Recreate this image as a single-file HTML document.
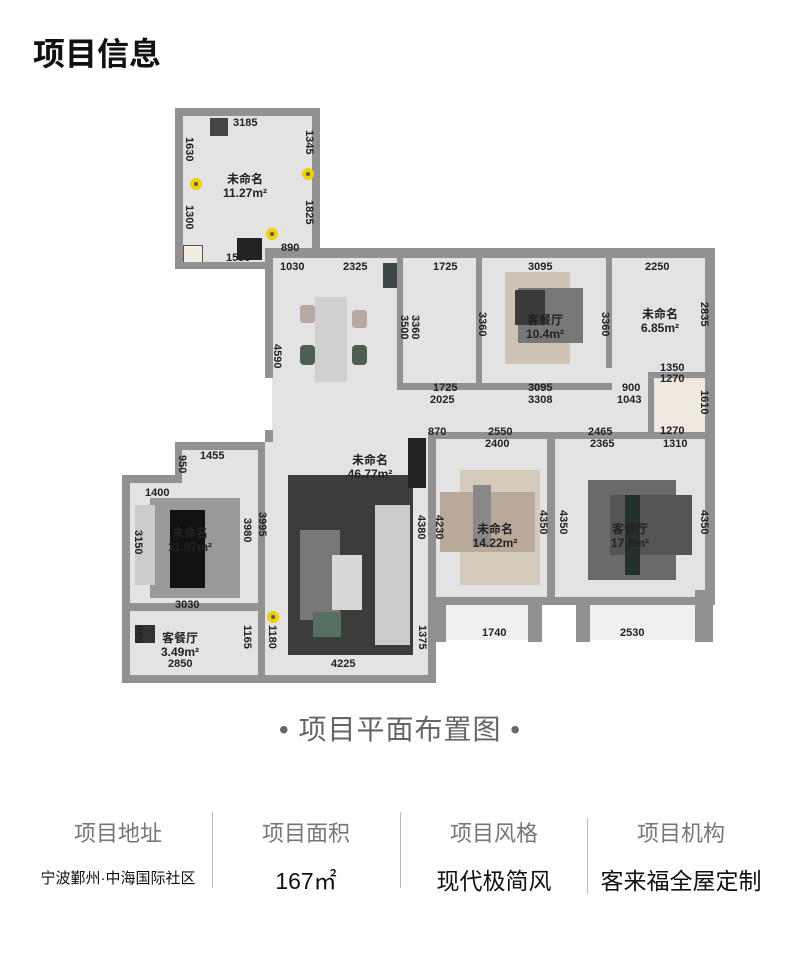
<!DOCTYPE html>
<html><head><meta charset="utf-8"><style>
body{margin:0;width:800px;height:961px;background:#fff;position:relative;overflow:hidden;font-family:"Liberation Sans","Noto Sans CJK SC",sans-serif}
.a{position:absolute}
.f{position:absolute;background:#e3e3e3}
.w{position:absolute;background:#919191}
.t{position:absolute;font-size:11px;color:#222;font-weight:bold;white-space:nowrap;line-height:1}
.v{position:absolute;font-size:11px;color:#222;font-weight:bold;white-space:nowrap;line-height:1;transform:rotate(90deg);transform-origin:left top}
.r{position:absolute;font-size:12px;color:#222;text-align:center;line-height:14px;font-weight:bold}
.y{position:absolute;width:12px;height:12px;border-radius:50%;background:#f0d000;box-sizing:border-box;border:3px solid #f0d000}
.y:after{content:"";position:absolute;left:1px;top:1px;width:4px;height:4px;border-radius:50%;background:#555}
.lab{position:absolute;top:816px;font-size:22px;color:#777;width:188px;text-align:center}
.val{position:absolute;top:862px;font-size:23px;color:#111;width:188px;text-align:center}
.dv{position:absolute;width:1px;background:#bbb}
</style></head><body>
<div class="a" style="left:33px;top:29px;font-size:32px;font-weight:bold;color:#111">项目信息</div>

<div class="f" style="left:183px;top:116px;width:130px;height:148px"></div>
<div class="f" style="left:272px;top:258px;width:436px;height:182px"></div>
<div class="f" style="left:265px;top:440px;width:170px;height:238px"></div>
<div class="f" style="left:130px;top:475px;width:135px;height:203px"></div>
<div class="f" style="left:180px;top:450px;width:85px;height:30px"></div>
<div class="f" style="left:435px;top:440px;width:273px;height:160px"></div>
<div class="f" style="left:445px;top:600px;width:85px;height:40px;background:#f0f0f0"></div>
<div class="f" style="left:590px;top:600px;width:105px;height:40px;background:#f0f0f0"></div>
<div class="f" style="left:655px;top:380px;width:50px;height:52px;background:#efe9df"></div>

<div class="a" style="left:210px;top:118px;width:18px;height:18px;background:#444"></div>
<div class="a" style="left:237px;top:238px;width:25px;height:22px;background:#222"></div>
<div class="a" style="left:183px;top:245px;width:18px;height:18px;background:#f2ece2;border:1px solid #555"></div>
<div class="a" style="left:315px;top:297px;width:32px;height:85px;background:#d0d0d0"></div>
<div class="a" style="left:300px;top:305px;width:15px;height:18px;background:#b9a9a6;border-radius:3px"></div>
<div class="a" style="left:352px;top:310px;width:15px;height:18px;background:#b9a9a6;border-radius:3px"></div>
<div class="a" style="left:300px;top:345px;width:15px;height:20px;background:#4f5e52;border-radius:4px"></div>
<div class="a" style="left:352px;top:345px;width:15px;height:20px;background:#4f5e52;border-radius:4px"></div>
<div class="a" style="left:383px;top:263px;width:18px;height:25px;background:#3d4548"></div>
<div class="a" style="left:505px;top:272px;width:65px;height:92px;background:#cfc3b3"></div>
<div class="a" style="left:518px;top:288px;width:65px;height:55px;background:#777"></div>
<div class="a" style="left:515px;top:290px;width:30px;height:35px;background:#3a3a3a"></div>
<div class="a" style="left:288px;top:475px;width:125px;height:180px;background:#3c3c3c"></div>
<div class="a" style="left:300px;top:530px;width:40px;height:90px;background:#777"></div>
<div class="a" style="left:375px;top:505px;width:35px;height:140px;background:#ccc"></div>
<div class="a" style="left:332px;top:555px;width:30px;height:55px;background:#d8d8d8"></div>
<div class="a" style="left:313px;top:612px;width:28px;height:25px;background:#557060"></div>
<div class="a" style="left:408px;top:438px;width:18px;height:50px;background:#222"></div>
<div class="a" style="left:460px;top:470px;width:80px;height:115px;background:#d4cbbd"></div>
<div class="a" style="left:440px;top:492px;width:95px;height:60px;background:#b9a99a"></div>
<div class="a" style="left:473px;top:485px;width:18px;height:62px;background:#888"></div>
<div class="a" style="left:588px;top:480px;width:88px;height:100px;background:#6a6a6a"></div>
<div class="a" style="left:610px;top:495px;width:82px;height:60px;background:#555"></div>
<div class="a" style="left:625px;top:495px;width:15px;height:80px;background:#24302a"></div>
<div class="a" style="left:150px;top:498px;width:90px;height:100px;background:#999"></div>
<div class="a" style="left:170px;top:510px;width:35px;height:78px;background:#111"></div>
<div class="a" style="left:135px;top:505px;width:20px;height:80px;background:#ccc"></div>
<div class="a" style="left:135px;top:625px;width:20px;height:18px;background:#333"></div>

<div class="w" style="left:175px;top:108px;width:145px;height:8px"></div>
<div class="w" style="left:175px;top:108px;width:8px;height:160px"></div>
<div class="w" style="left:312px;top:108px;width:8px;height:148px"></div>
<div class="w" style="left:175px;top:262px;width:90px;height:7px"></div>
<div class="w" style="left:265px;top:248px;width:450px;height:10px"></div>
<div class="w" style="left:265px;top:248px;width:8px;height:130px"></div>
<div class="w" style="left:265px;top:430px;width:8px;height:12px"></div>
<div class="w" style="left:705px;top:248px;width:10px;height:352px"></div>
<div class="w" style="left:397px;top:258px;width:6px;height:132px"></div>
<div class="w" style="left:476px;top:258px;width:6px;height:132px"></div>
<div class="w" style="left:606px;top:258px;width:6px;height:110px"></div>
<div class="w" style="left:397px;top:383px;width:215px;height:7px"></div>
<div class="w" style="left:648px;top:372px;width:6px;height:60px"></div>
<div class="w" style="left:648px;top:372px;width:60px;height:6px"></div>
<div class="w" style="left:428px;top:432px;width:287px;height:7px"></div>
<div class="w" style="left:547px;top:432px;width:8px;height:172px"></div>
<div class="w" style="left:428px;top:597px;width:287px;height:8px"></div>
<div class="w" style="left:428px;top:432px;width:8px;height:251px"></div>
<div class="w" style="left:428px;top:597px;width:18px;height:45px"></div>
<div class="w" style="left:528px;top:597px;width:14px;height:45px"></div>
<div class="w" style="left:576px;top:597px;width:14px;height:45px"></div>
<div class="w" style="left:695px;top:590px;width:18px;height:52px"></div>
<div class="w" style="left:122px;top:675px;width:314px;height:8px"></div>
<div class="w" style="left:122px;top:475px;width:60px;height:8px"></div>
<div class="w" style="left:175px;top:442px;width:90px;height:8px"></div>
<div class="w" style="left:175px;top:442px;width:7px;height:40px"></div>
<div class="w" style="left:122px;top:475px;width:8px;height:208px"></div>
<div class="w" style="left:122px;top:603px;width:143px;height:8px"></div>
<div class="w" style="left:258px;top:442px;width:7px;height:241px"></div>

<div class="y" style="left:190px;top:178px"></div>
<div class="y" style="left:302px;top:168px"></div>
<div class="y" style="left:266px;top:228px"></div>
<div class="y" style="left:267px;top:611px"></div>

<div class="r" style="left:205px;top:172px;width:80px">未命名<br>11.27m²</div>
<div class="r" style="left:505px;top:313px;width:80px">客餐厅<br>10.4m²</div>
<div class="r" style="left:625px;top:307px;width:70px">未命名<br>6.85m²</div>
<div class="r" style="left:330px;top:453px;width:80px">未命名<br>46.77m²</div>
<div class="r" style="left:150px;top:526px;width:80px">未命名<br>11.07m²</div>
<div class="r" style="left:455px;top:522px;width:80px">未命名<br>14.22m²</div>
<div class="r" style="left:590px;top:522px;width:80px">客餐厅<br>17.8m²</div>
<div class="r" style="left:140px;top:631px;width:80px">客餐厅<br>3.49m²</div>

<div class="t" style="left:233px;top:118px">3185</div>
<div class="t" style="left:226px;top:253px">1580</div>
<div class="t" style="left:281px;top:243px">890</div>
<div class="t" style="left:280px;top:262px">1030</div>
<div class="t" style="left:343px;top:262px">2325</div>
<div class="t" style="left:433px;top:262px">1725</div>
<div class="t" style="left:528px;top:262px">3095</div>
<div class="t" style="left:645px;top:262px">2250</div>
<div class="t" style="left:433px;top:383px">1725</div>
<div class="t" style="left:528px;top:383px">3095</div>
<div class="t" style="left:430px;top:395px">2025</div>
<div class="t" style="left:528px;top:395px">3308</div>
<div class="t" style="left:622px;top:383px">900</div>
<div class="t" style="left:617px;top:395px">1043</div>
<div class="t" style="left:660px;top:363px">1350</div>
<div class="t" style="left:660px;top:374px">1270</div>
<div class="t" style="left:660px;top:426px">1270</div>
<div class="t" style="left:428px;top:427px">870</div>
<div class="t" style="left:488px;top:427px">2550</div>
<div class="t" style="left:588px;top:427px">2465</div>
<div class="t" style="left:485px;top:439px">2400</div>
<div class="t" style="left:590px;top:439px">2365</div>
<div class="t" style="left:663px;top:439px">1310</div>
<div class="t" style="left:200px;top:451px">1455</div>
<div class="t" style="left:145px;top:488px">1400</div>
<div class="t" style="left:175px;top:600px">3030</div>
<div class="t" style="left:168px;top:659px">2850</div>
<div class="t" style="left:331px;top:659px">4225</div>
<div class="t" style="left:482px;top:628px">1740</div>
<div class="t" style="left:620px;top:628px">2530</div>
<div class="v" style="left:194px;top:137px">1630</div>
<div class="v" style="left:194px;top:205px">1300</div>
<div class="v" style="left:314px;top:130px">1345</div>
<div class="v" style="left:314px;top:200px">1825</div>
<div class="v" style="left:282px;top:344px">4590</div>
<div class="v" style="left:409px;top:315px">3500</div>
<div class="v" style="left:420px;top:315px">3360</div>
<div class="v" style="left:487px;top:312px">3360</div>
<div class="v" style="left:610px;top:312px">3360</div>
<div class="v" style="left:709px;top:302px">2835</div>
<div class="v" style="left:709px;top:390px">1610</div>
<div class="v" style="left:187px;top:455px">950</div>
<div class="v" style="left:143px;top:530px">3150</div>
<div class="v" style="left:252px;top:518px">3980</div>
<div class="v" style="left:267px;top:512px">3995</div>
<div class="v" style="left:426px;top:515px">4380</div>
<div class="v" style="left:444px;top:515px">4230</div>
<div class="v" style="left:548px;top:510px">4350</div>
<div class="v" style="left:568px;top:510px">4350</div>
<div class="v" style="left:709px;top:510px">4350</div>
<div class="v" style="left:143px;top:625px">955</div>
<div class="v" style="left:252px;top:625px">1165</div>
<div class="v" style="left:277px;top:625px">1180</div>
<div class="v" style="left:427px;top:625px">1375</div>

<div class="a" style="left:0;top:708px;width:800px;text-align:center;font-size:28px;color:#666;letter-spacing:1px">• 项目平面布置图 •</div>

<div class="dv" style="left:212px;top:812px;height:76px"></div>
<div class="dv" style="left:400px;top:812px;height:76px"></div>
<div class="dv" style="left:587px;top:818px;height:76px"></div>
<div class="lab" style="left:24px">项目地址</div>
<div class="lab" style="left:212px">项目面积</div>
<div class="lab" style="left:400px">项目风格</div>
<div class="lab" style="left:587px">项目机构</div>
<div class="val" style="left:24px;font-size:15px;top:867px">宁波鄞州·中海国际社区</div>
<div class="val" style="left:212px">167㎡</div>
<div class="val" style="left:400px">现代极简风</div>
<div class="val" style="left:587px">客来福全屋定制</div>
</body></html>
